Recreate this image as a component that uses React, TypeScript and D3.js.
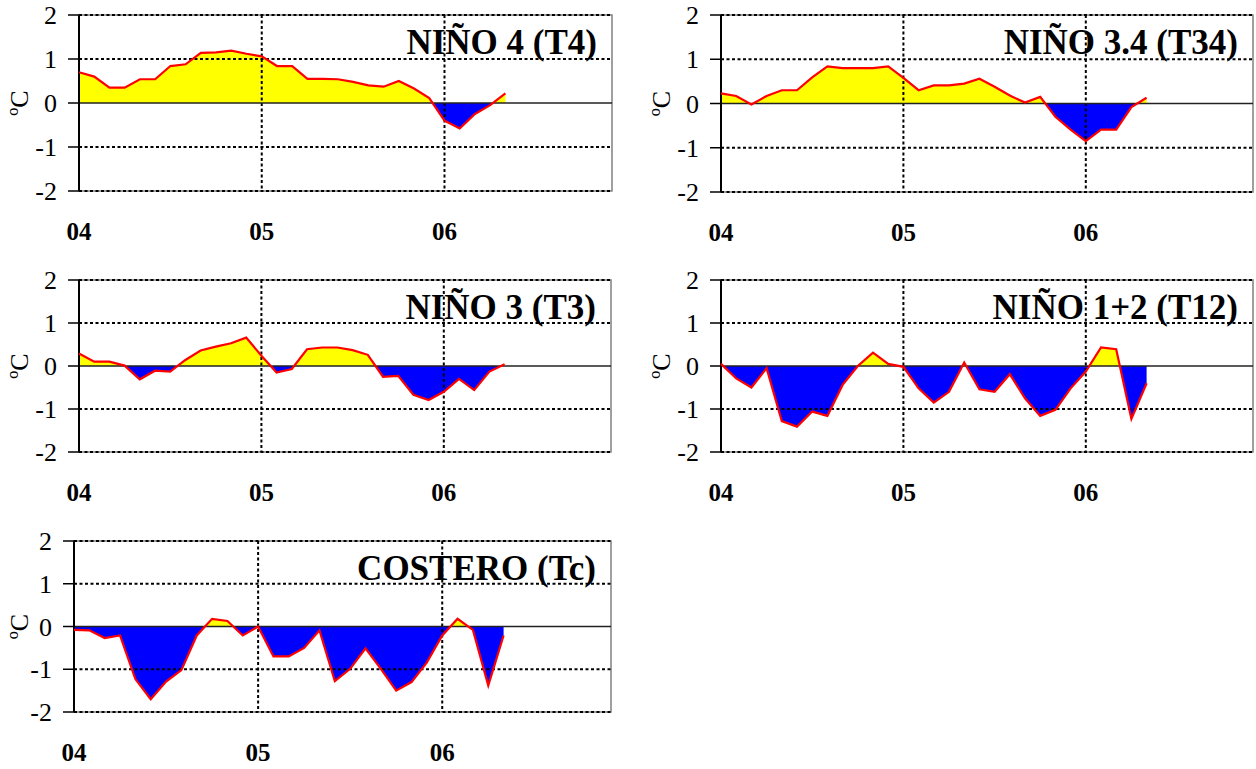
import { useEffect, useRef } from "react";
import * as d3 from "d3";

// monthly anomalies, Jan 2004 .. May 2006 (degC)
const yearLabels = ["04", "05", "06"];
const yTicks = [-2, -1, 0, 1, 2];

const t4 = [0.70, 0.60, 0.35, 0.35, 0.54, 0.54, 0.84, 0.88, 1.14, 1.15, 1.19, 1.12, 1.06, 0.84, 0.84, 0.55, 0.55, 0.54, 0.48, 0.40, 0.37, 0.50, 0.33, 0.11, -0.40, -0.58, -0.25, -0.05, 0.22];
const t34 = [0.23, 0.17, -0.02, 0.17, 0.30, 0.30, 0.59, 0.84, 0.80, 0.80, 0.80, 0.84, 0.58, 0.30, 0.41, 0.41, 0.45, 0.56, 0.38, 0.18, 0.02, 0.15, -0.30, -0.59, -0.85, -0.59, -0.59, -0.08, 0.13];
const t3 = [0.29, 0.10, 0.10, 0.01, -0.31, -0.11, -0.13, 0.14, 0.36, 0.45, 0.53, 0.66, 0.24, -0.15, -0.07, 0.39, 0.43, 0.43, 0.37, 0.26, -0.25, -0.23, -0.67, -0.79, -0.60, -0.30, -0.56, -0.13, 0.04];
const t12 = [0.05, -0.29, -0.50, -0.05, -1.28, -1.41, -1.06, -1.16, -0.44, 0.0, 0.31, 0.05, -0.02, -0.52, -0.85, -0.60, 0.08, -0.54, -0.60, -0.19, -0.75, -1.16, -1.02, -0.52, -0.13, 0.43, 0.39, -1.23, -0.40];
const tc = [-0.08, -0.09, -0.27, -0.21, -1.23, -1.70, -1.29, -1.02, -0.21, 0.18, 0.13, -0.21, 0.0, -0.70, -0.70, -0.50, -0.09, -1.28, -0.99, -0.51, -0.99, -1.50, -1.30, -0.84, -0.21, 0.18, -0.08, -1.38, -0.21];

const titles = ["NIÑO 4 (T4)", "NIÑO 3.4 (T34)", "NIÑO 3 (T3)", "NIÑO 1+2 (T12)", "COSTERO (Tc)"];
const seriesList = [t4, t34, t3, t12, tc];

// plot boxes (pixels) for each panel; unitX = baseline of the rotated unit label
const boxes = [
  { left: 79, right: 612, top: 15, bottom: 191, unitX: 28 },
  { left: 721, right: 1253, top: 15, bottom: 192, unitX: 670 },
  { left: 79, right: 611, top: 280, bottom: 452, unitX: 28 },
  { left: 721, right: 1253, top: 280, bottom: 452, unitX: 670 },
  { left: 74, right: 611, top: 541, bottom: 712, unitX: 28 },
];

const W = 1256;
const H = 769;
const FONT = "'Liberation Serif', 'Times New Roman', serif";

export default function App() {
  const ref = useRef<SVGSVGElement | null>(null);

  useEffect(() => {
    const svg = d3.select(ref.current);
    svg.selectAll("*").remove();
    svg.attr("viewBox", `0 0 ${W} ${H}`);
    const defs = svg.append("defs");

    seriesList.forEach((vals, p) => {
      const b = boxes[p];
      const x = d3.scaleLinear().domain([0, 35]).range([b.left, b.right]);
      const y = d3.scaleLinear().domain([-2, 2]).range([b.bottom, b.top]);
      const g = svg.append("g").attr("font-family", FONT);

      // clip regions above / below zero
      defs.append("clipPath").attr("id", `pos${p}`)
        .append("rect").attr("x", b.left).attr("y", b.top)
        .attr("width", b.right - b.left).attr("height", y(0) - b.top);
      defs.append("clipPath").attr("id", `neg${p}`)
        .append("rect").attr("x", b.left).attr("y", y(0))
        .attr("width", b.right - b.left).attr("height", b.bottom - y(0));

      const area = d3.area<number>()
        .x((_, i) => x(i))
        .y0(y(0))
        .y1((d) => y(d));

      g.append("path").datum(vals)
        .attr("fill", "#ffff00")
        .attr("clip-path", `url(#pos${p})`)
        .attr("d", area);
      g.append("path").datum(vals)
        .attr("fill", "#0000ff")
        .attr("clip-path", `url(#neg${p})`)
        .attr("d", area);

      // title
      g.append("text")
        .attr("x", b.right - 15)
        .attr("y", b.top + 39)
        .attr("text-anchor", "end")
        .attr("font-size", 35)
        .attr("font-weight", "bold")
        .attr("fill", "#000")
        .text(titles[p]);

      // frame
      g.append("rect")
        .attr("x", b.left).attr("y", b.top)
        .attr("width", b.right - b.left).attr("height", b.bottom - b.top)
        .attr("fill", "none").attr("stroke", "#808080").attr("stroke-width", 1.5);

      // dotted gridlines
      yTicks.filter((t) => t !== 0).forEach((t) => {
        g.append("line")
          .attr("x1", b.left).attr("x2", b.right)
          .attr("y1", y(t)).attr("y2", y(t))
          .attr("stroke", "#000").attr("stroke-width", 2)
          .attr("stroke-dasharray", "3 2.5");
      });
      [12, 24].forEach((m) => {
        g.append("line")
          .attr("x1", x(m)).attr("x2", x(m))
          .attr("y1", b.top).attr("y2", b.bottom)
          .attr("stroke", "#000").attr("stroke-width", 2)
          .attr("stroke-dasharray", "3 2.5");
      });

      // zero line
      g.append("line")
        .attr("x1", b.left).attr("x2", b.right)
        .attr("y1", y(0)).attr("y2", y(0))
        .attr("stroke", "#222").attr("stroke-width", 1.3);

      // y axis
      g.append("line")
        .attr("x1", b.left).attr("x2", b.left)
        .attr("y1", b.top).attr("y2", b.bottom)
        .attr("stroke", "#000").attr("stroke-width", 2);
      yTicks.forEach((t) => {
        g.append("line")
          .attr("x1", b.left - 11).attr("x2", b.left)
          .attr("y1", y(t)).attr("y2", y(t))
          .attr("stroke", "#000").attr("stroke-width", 1.5);
        g.append("text")
          .attr("x", b.left - 22)
          .attr("y", y(t) + 9)
          .attr("text-anchor", "end")
          .attr("font-size", 26)
          .attr("fill", "#000")
          .text(String(t));
      });

      // y label
      g.append("text")
        .attr("transform", `translate(${b.unitX},${(b.top + b.bottom) / 2}) rotate(-90)`)
        .attr("text-anchor", "middle")
        .attr("font-size", 26)
        .attr("fill", "#000")
        .text("ºC");

      // x labels
      yearLabels.forEach((lab, i) => {
        g.append("text")
          .attr("x", x(i * 12))
          .attr("y", b.bottom + 49)
          .attr("text-anchor", "middle")
          .attr("font-size", 25)
          .attr("font-weight", "bold")
          .attr("fill", "#000")
          .text(lab);
      });

      // anomaly line
      const line = d3.line<number>().x((_, i) => x(i)).y((d) => y(d));
      g.append("path").datum(vals)
        .attr("fill", "none")
        .attr("stroke", "#ff0000")
        .attr("stroke-width", 2.2)
        .attr("d", line);
    });
  }, []);

  return (
    <svg
      ref={ref}
      width={W}
      height={H}
      style={{ position: "absolute", left: 0, top: 0, display: "block", background: "#fff" }}
    />
  );
}
